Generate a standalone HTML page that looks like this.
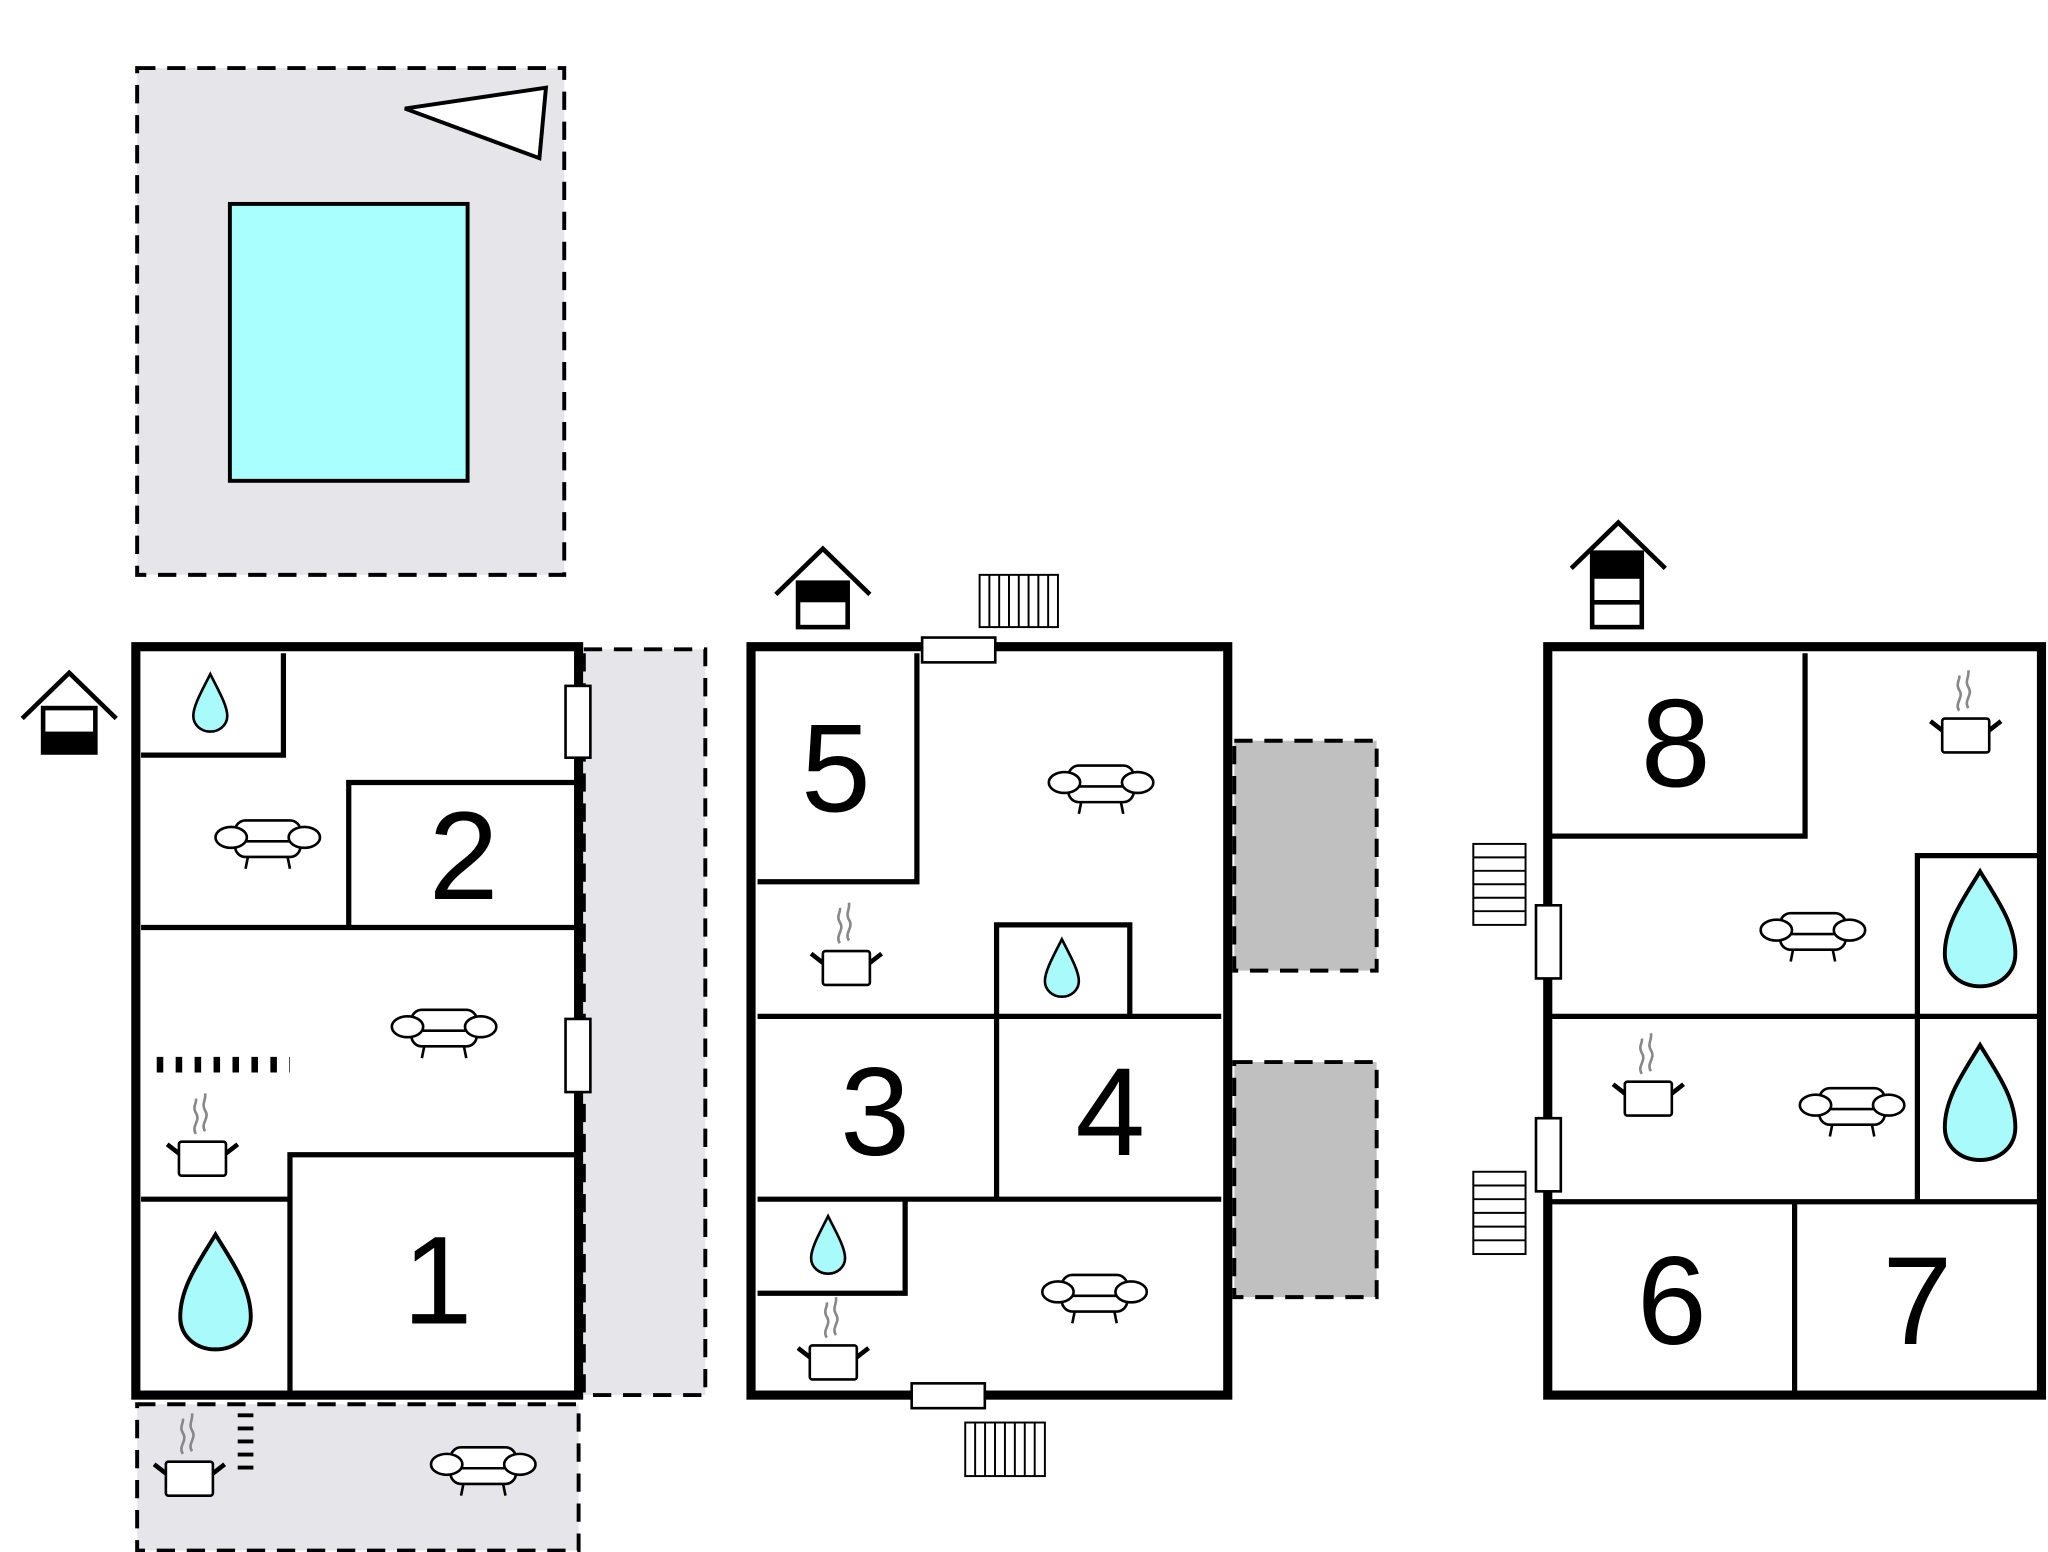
<!DOCTYPE html>
<html><head><meta charset="utf-8"><style>html,body{margin:0;padding:0;background:#fff}svg{display:block}</style></head>
<body>
<svg width="2048" height="1552" viewBox="0 0 1568 1188" xmlns="http://www.w3.org/2000/svg" font-family="Liberation Sans, sans-serif">
<defs>
<g id="sofa" fill="#fff" stroke="#000" stroke-width="2">
  <line x1="-15" y1="10" x2="-17" y2="20"/><line x1="15" y1="10" x2="17" y2="20"/>
  <rect x="-25" y="-17" width="50" height="28" rx="8"/>
  <line x1="-25" y1="-1" x2="25" y2="-1"/>
  <ellipse cx="-28" cy="-4" rx="12" ry="8"/><ellipse cx="28" cy="-4" rx="12" ry="8"/>
</g>
<g id="pot">
  <path d="M-5,-12 c-4,-6 4,-10 0,-16 c-3,-5 1,-8 0,-11 M2,-14 c-4,-6 4,-10 0,-16 c-3,-5 1,-8 0,-13" fill="none" stroke="#888" stroke-width="2"/>
  <line x1="-27" y1="-4" x2="-18" y2="3" stroke="#000" stroke-width="3.5"/>
  <line x1="27" y1="-4" x2="18" y2="3" stroke="#000" stroke-width="3.5"/>
  <rect x="-18" y="-6" width="36" height="26" rx="2" fill="#fff" stroke="#000" stroke-width="2"/>
</g>
<path id="dropS" d="M0,-24 C6,-12 13,0 13,8 C13,15 7,20 0,20 C-7,20 -13,15 -13,8 C-13,0 -6,-12 0,-24Z" fill="#a9fbfb" stroke="#000" stroke-width="2"/>
<path id="dropL" d="M0,-45 C12,-25 27,-5 27,18 C27,33 15,43 0,43 C-15,43 -27,33 -27,18 C-27,-5 -12,-25 0,-45Z" fill="#a9fbfb" stroke="#000" stroke-width="3"/>
</defs>

<!-- pool area -->
<rect x="105" y="52" width="327" height="388" fill="#e6e6ea" stroke="#000" stroke-width="3" stroke-dasharray="14,9"/>
<rect x="176" y="156" width="182" height="212" fill="#a9fefe" stroke="#000" stroke-width="3"/>
<polygon points="310,83 418,67 413,121" fill="#fff" stroke="#000" stroke-width="3"/>

<!-- Building 1 -->
<rect x="447" y="497" width="93" height="571" fill="#e6e6ea" stroke="#000" stroke-width="3" stroke-dasharray="14,9"/>
<rect x="105" y="1075" width="338" height="112" fill="#e6e6ea" stroke="#000" stroke-width="3" stroke-dasharray="14,9"/>
<rect x="104" y="495" width="339" height="573" fill="#fff" stroke="#000" stroke-width="7"/>
<g fill="none" stroke="#000" stroke-width="4">
<polyline points="108,578 217,578 217,500"/>
<polyline points="267,710 267,599 440,599"/>
<line x1="108" y1="710" x2="440" y2="710"/>
<polyline points="222,1068 222,884 440,884"/>
<line x1="108" y1="918" x2="222" y2="918"/>
</g>
<line x1="120" y1="815" x2="222" y2="815" stroke="#000" stroke-width="12" stroke-dasharray="5,9.5"/>
<rect x="433" y="525" width="19" height="55" fill="#fff" stroke="#000" stroke-width="2"/>
<rect x="433" y="780" width="19" height="56" fill="#fff" stroke="#000" stroke-width="2"/>
<text x="355" y="688" font-size="96" text-anchor="middle">2</text>
<text x="335" y="1013" font-size="96" text-anchor="middle">1</text>
<use href="#dropS" x="161" y="540"/>
<use href="#dropL" x="165" y="990"/>
<use href="#sofa" x="205" y="645"/>
<use href="#sofa" x="340" y="790"/>
<use href="#pot" x="155" y="880"/>
<use href="#pot" x="145" y="1125"/>
<line x1="188" y1="1082" x2="188" y2="1130" stroke="#000" stroke-width="12" stroke-dasharray="3,7"/>
<use href="#sofa" x="370" y="1125"/>
<!-- house 1 -->
<g stroke="#000" stroke-width="3.5" fill="none">
<polyline points="17,550 53,515 89,550"/>
<rect x="33" y="542" width="40" height="34" fill="#fff"/>
</g>
<rect x="33" y="560" width="40" height="17" fill="#000"/>

<!-- Building 2 -->
<rect x="945" y="567" width="109" height="176" fill="#c0c0c0" stroke="#000" stroke-width="3" stroke-dasharray="14,9"/>
<rect x="945" y="813" width="109" height="180" fill="#c0c0c0" stroke="#000" stroke-width="3" stroke-dasharray="14,9"/>
<rect x="575" y="495" width="365" height="573" fill="#fff" stroke="#000" stroke-width="7"/>
<g fill="none" stroke="#000" stroke-width="4">
<polyline points="580,675 702,675 702,500"/>
<line x1="580" y1="778" x2="935" y2="778"/>
<polyline points="763,778 763,708 865,708 865,778"/>
<line x1="763" y1="778" x2="763" y2="918"/>
<line x1="580" y1="918" x2="935" y2="918"/>
<polyline points="580,990 693,990 693,918"/>
</g>
<text x="640" y="621" font-size="96" text-anchor="middle">5</text>
<text x="670" y="884" font-size="96" text-anchor="middle">3</text>
<text x="850" y="884" font-size="96" text-anchor="middle">4</text>
<use href="#sofa" x="843" y="603"/>
<use href="#sofa" x="838" y="993"/>
<use href="#pot" x="648" y="734"/>
<use href="#pot" x="638" y="1036"/>
<use href="#dropS" x="813" y="743"/>
<use href="#dropS" x="634" y="955"/>
<rect x="706" y="488" width="56" height="19" fill="#fff" stroke="#000" stroke-width="2"/>
<rect x="698" y="1059" width="56" height="19" fill="#fff" stroke="#000" stroke-width="2"/>
<g stroke="#000" stroke-width="1.5" fill="#fff">
<rect x="750" y="440" width="60" height="40"/>
<path d="M757.5,440v40M765,440v40M772.5,440v40M780,440v40M787.5,440v40M795,440v40M802.5,440v40"/>
<rect x="739" y="1089" width="61" height="41"/>
<path d="M746.6,1089v41M754.2,1089v41M761.8,1089v41M769.4,1089v41M777,1089v41M784.6,1089v41M792.2,1089v41"/>
</g>
<g stroke="#000" stroke-width="3.5" fill="none">
<polyline points="594,455 630,420 666,455"/>
<rect x="611" y="446" width="38" height="34" fill="#fff"/>
</g>
<rect x="611" y="446" width="38" height="15" fill="#000"/>

<!-- Building 3 -->
<rect x="1185" y="495" width="378" height="573" fill="#fff" stroke="#000" stroke-width="7"/>
<g fill="none" stroke="#000" stroke-width="4">
<polyline points="1188,640 1382,640 1382,500"/>
<line x1="1188" y1="778" x2="1560" y2="778"/>
<polyline points="1468,920 1468,655 1560,655"/>
<line x1="1188" y1="920" x2="1560" y2="920"/>
<line x1="1374" y1="920" x2="1374" y2="1068"/>
</g>
<text x="1283" y="602" font-size="96" text-anchor="middle">8</text>
<text x="1280" y="1029" font-size="96" text-anchor="middle">6</text>
<text x="1468" y="1029" font-size="96" text-anchor="middle">7</text>
<use href="#sofa" x="1388" y="716"/>
<use href="#sofa" x="1418" y="850"/>
<use href="#pot" x="1505" y="556"/>
<use href="#pot" x="1262" y="834"/>
<use href="#dropL" x="1516" y="712"/>
<use href="#dropL" x="1516" y="845"/>
<rect x="1176" y="693" width="19" height="56" fill="#fff" stroke="#000" stroke-width="2"/>
<rect x="1176" y="856" width="19" height="56" fill="#fff" stroke="#000" stroke-width="2"/>
<g stroke="#000" stroke-width="1.5" fill="#fff">
<rect x="1128" y="646" width="40" height="62"/>
<path d="M1128,656.3h40M1128,666.6h40M1128,676.9h40M1128,687.2h40M1128,697.5h40"/>
<rect x="1128" y="897" width="40" height="63"/>
<path d="M1128,907.5h40M1128,918h40M1128,928.5h40M1128,939h40M1128,949.5h40"/>
</g>
<g stroke="#000" stroke-width="3.5" fill="none">
<polyline points="1203,435 1239,400 1275,435"/>
<rect x="1219" y="423" width="38" height="57" fill="#fff"/>
<line x1="1219" y1="461" x2="1257" y2="461"/>
</g>
<rect x="1219" y="423" width="38" height="20" fill="#000"/>
</svg>
</body></html>
